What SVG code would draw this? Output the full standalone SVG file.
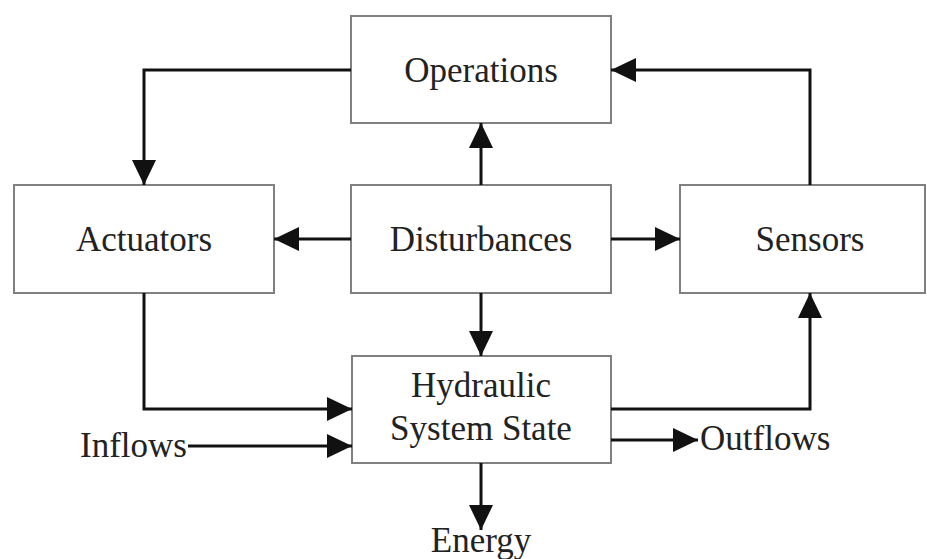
<svg xmlns="http://www.w3.org/2000/svg" width="927" height="559" viewBox="0 0 927 559">
<style>
.box{fill:#fff;stroke:#808080;stroke-width:2}
.lbl{font-family:"Liberation Serif","Times New Roman",serif;font-size:35px;fill:#222}
.c{fill:none;stroke:#111;stroke-width:3}
</style>
<defs>
<marker id="ah" markerUnits="userSpaceOnUse" markerWidth="26" markerHeight="24" refX="25" refY="12" orient="auto">
<path d="M0,0 L25,12 L0,24 Z" fill="#111"/>
</marker>
</defs>
<rect width="927" height="559" fill="#fff"/>
<g id="operations"><rect class="box" x="351" y="16" width="260" height="107"/><text class="lbl" x="481" y="82" text-anchor="middle">Operations</text></g>
<g id="actuators"><rect class="box" x="14" y="185" width="260" height="108"/><text class="lbl" x="144" y="251" text-anchor="middle">Actuators</text></g>
<g id="disturbances"><rect class="box" x="351" y="185" width="260" height="108"/><text class="lbl" x="481" y="251" text-anchor="middle">Disturbances</text></g>
<g id="sensors"><rect class="box" x="680" y="185" width="245" height="108"/><text class="lbl" x="810" y="251" text-anchor="middle">Sensors</text></g>
<g id="hydraulic"><rect class="box" x="352" y="356" width="259" height="107"/><text class="lbl" x="481" y="397" text-anchor="middle">Hydraulic</text><text class="lbl" x="481" y="440" text-anchor="middle">System State</text></g>
<g id="inflows"><text class="lbl" x="80" y="457">Inflows</text></g>
<g id="outflows"><text class="lbl" x="700" y="450">Outflows</text></g>
<g id="energy"><text class="lbl" x="481" y="552" text-anchor="middle">Energy</text></g>
<g id="connectors">
<path class="c" d="M351,70 H144 V185" marker-end="url(#ah)"/>
<path class="c" d="M810,185 V70 H611" marker-end="url(#ah)"/>
<path class="c" d="M481,185 V123" marker-end="url(#ah)"/>
<path class="c" d="M351,239 H274" marker-end="url(#ah)"/>
<path class="c" d="M611,239 H680" marker-end="url(#ah)"/>
<path class="c" d="M481,293 V356" marker-end="url(#ah)"/>
<path class="c" d="M144,293 V409 H352" marker-end="url(#ah)"/>
<path class="c" d="M188,446 H352" marker-end="url(#ah)"/>
<path class="c" d="M611,409 H810 V293" marker-end="url(#ah)"/>
<path class="c" d="M611,440 H698" marker-end="url(#ah)"/>
<path class="c" d="M481,463 V530" marker-end="url(#ah)"/>
</g>
</svg>
